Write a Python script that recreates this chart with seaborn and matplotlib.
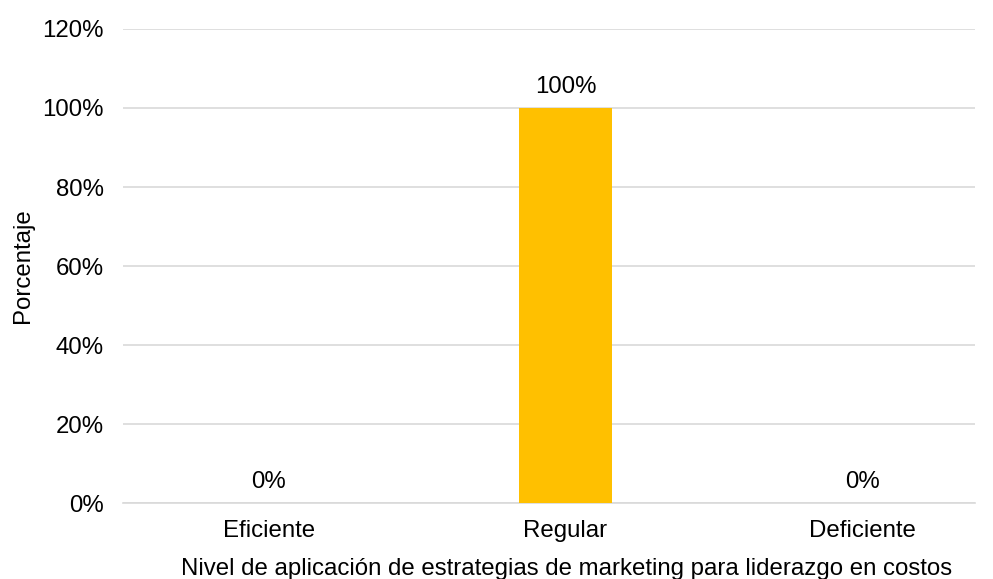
import matplotlib
matplotlib.use("Agg")
import matplotlib.pyplot as plt
import seaborn as sns
import pandas as pd
from matplotlib.ticker import PercentFormatter

# --- Datos ---
niveles = ["Eficiente", "Regular", "Deficiente"]
porcentajes = [0, 100, 0]
etiquetas = ["0%", "100%", "0%"]

df = pd.DataFrame({"nivel": niveles, "porcentaje": porcentajes})

sns.set_theme(style="white")
plt.rcParams["font.family"] = ["Liberation Sans", "DejaVu Sans"]

fs = 17.3

fig = plt.figure(figsize=(9.93, 5.79), dpi=100)
ax = fig.add_axes([0.124, 0.131, 0.858, 0.819])

sns.barplot(data=df, x="nivel", y="porcentaje", color="#FFC000",
            width=0.314, saturation=1, linewidth=0, ax=ax, zorder=3)

# etiquetas de datos
for i, (v, t) in enumerate(zip(porcentajes, etiquetas)):
    ax.annotate(t, (i, v), xytext=(0, 7), textcoords="offset points",
                ha="center", va="bottom", fontsize=fs, color="#000000")

ax.set_ylim(0, 120)
ax.set_yticks(range(0, 121, 20))
ax.yaxis.set_major_formatter(PercentFormatter(decimals=0))
ax.set_xlim(-0.49, 2.38)

ax.grid(axis="y", color="#D9D9D9", linewidth=1.2, zorder=0)
for s in ["top", "right", "left"]:
    ax.spines[s].set_visible(False)
ax.spines["bottom"].set_color("#D9D9D9")
ax.spines["bottom"].set_linewidth(1.2)

ax.tick_params(axis="y", length=0, pad=14, labelsize=fs, labelcolor="#000000")
ax.tick_params(axis="x", length=0, pad=12, labelsize=fs, labelcolor="#000000")

ax.set_xlabel("Nivel de aplicación de estrategias de marketing para liderazgo en costos",
              fontsize=fs, color="#000000")
ax.xaxis.set_label_coords(0.52, -0.115)
ax.set_ylabel("Porcentaje", fontsize=fs, color="#000000", labelpad=6)

fig.savefig("out.png", dpi=100)
